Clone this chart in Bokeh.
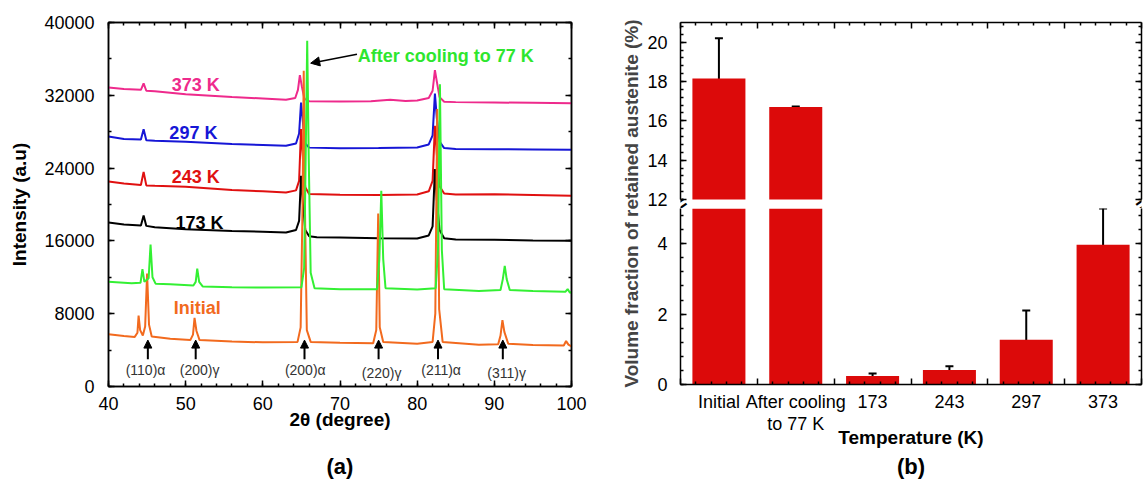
from bokeh.plotting import figure
from bokeh.models import (LinearAxis, SingleIntervalTicker, FixedTicker, Range1d, Title,
                          Arrow, NormalHead, Whisker, TeeHead, ColumnDataSource, CDSView, BooleanFilter)
from bokeh.layouts import row, column
from bokeh.embed import file_html
from bokeh.resources import INLINE
from bokeh.core.properties import value

FONT = "Liberation Sans"

# ---------------- (a) XRD patterns: points ----------------
init_x = [40.0, 42.0, 43.4, 43.75, 43.9, 44.1, 44.45, 44.75, 45.0, 45.25, 45.6, 48.0, 50.6, 50.95, 51.15, 51.4,
          51.8, 56.0, 60.0, 64.5, 64.9, 65.15, 65.3, 65.45, 65.7, 66.2, 70.0, 74.3, 74.7, 74.95, 75.15, 75.6,
          80.0, 82.0, 82.35, 82.6, 82.85, 83.3, 88.0, 90.5, 90.8, 91.05, 91.3, 91.8, 95.0, 99.0, 99.3, 99.6, 100.0]
init_y = [5750, 5550, 5450, 5900, 7800, 6200, 5600, 6600, 12400, 6800, 5500, 5250, 5100, 5700, 7550, 6100,
          5100, 4950, 4850, 4900, 6500, 20000, 34700, 20000, 6200, 4900, 4800, 4750, 6200, 19000, 6500, 4900,
          4700, 4900, 8000, 30500, 8500, 4900, 4600, 4650, 5600, 7300, 6000, 4700, 4550, 4500, 5000, 4600, 4400]

cool_x = [40.0, 43.0, 44.15, 44.4, 44.65, 45.2, 45.45, 45.7, 46.1, 48.0, 51.0, 51.3, 51.5, 51.75, 52.2, 56.0,
          60.0, 65.0, 65.35, 65.55, 65.75, 65.95, 66.2, 66.7, 70.0, 74.8, 75.1, 75.35, 75.6, 75.9, 80.0, 82.4,
          82.7, 82.95, 83.2, 83.5, 88.0, 90.8, 91.1, 91.35, 91.6, 92.0, 95.0, 99.2, 99.5, 99.8, 100.0]
cool_y = [11500, 11350, 11400, 12900, 11500, 11900, 15600, 12000, 11300, 11240, 11100, 11500, 12950, 11500,
          11000, 10900, 10880, 10900, 13000, 25000, 38000, 25000, 12500, 10800, 10700, 10700, 14000, 21500,
          14000, 10800, 10650, 10800, 15000, 33200, 15000, 10700, 10500, 10600, 11800, 13260, 11800, 10600,
          10500, 10400, 10700, 10300, 10400]

k173_x = [40.0, 42.0, 44.2, 44.55, 44.9, 46.0, 50.0, 56.0, 60.0, 63.0, 64.3, 64.7, 64.95, 65.2, 65.5, 66.0,
          67.0, 70.0, 75.0, 80.0, 81.5, 82.0, 82.3, 82.55, 82.9, 83.5, 85.0, 90.0, 95.0, 100.0]
k173_y = [18020, 17800, 17700, 18800, 17650, 17500, 17290, 17100, 17000, 16930, 17200, 18200, 23150, 20000,
          17200, 16500, 16400, 16380, 16300, 16270, 16600, 17600, 23890, 20500, 17200, 16300, 16150, 16120,
          16050, 16010]

k243_x = [40.0, 42.0, 44.2, 44.55, 44.9, 46.0, 50.0, 56.0, 60.0, 63.0, 64.3, 64.7, 64.95, 65.2, 65.5, 66.0,
          70.0, 75.0, 80.0, 81.5, 82.0, 82.3, 82.55, 82.9, 83.5, 85.0, 90.0, 95.0, 100.0]
k243_y = [22530, 22300, 22150, 23590, 22100, 22050, 21950, 21600, 21450, 21320, 21550, 22600, 28280, 25000,
          21900, 21150, 21070, 21050, 21100, 21450, 22600, 28650, 25500, 22000, 21200, 21100, 21140, 21050, 20960]

k297_x = [40.0, 42.0, 44.2, 44.55, 44.9, 46.0, 50.0, 56.0, 60.0, 63.0, 64.3, 64.7, 64.95, 65.2, 65.5, 66.0,
          70.0, 75.0, 80.0, 81.5, 82.0, 82.3, 82.55, 82.9, 83.5, 85.0, 90.0, 95.0, 100.0]
k297_y = [27480, 27200, 27150, 28280, 27050, 27000, 26890, 26650, 26550, 26450, 26700, 27800, 31210, 29000,
          26700, 26250, 26190, 26200, 26270, 26600, 27600, 32200, 29500, 26900, 26200, 26100, 26080, 26050, 26010]

k373_x = [40.0, 42.0, 44.2, 44.55, 44.9, 46.0, 50.0, 56.0, 60.0, 63.0, 64.2, 64.55, 64.8, 65.05, 65.4, 66.0,
          70.0, 74.0, 76.5, 78.5, 80.0, 81.5, 82.0, 82.3, 82.55, 82.9, 83.5, 85.0, 90.0, 95.0, 100.0]
k373_y = [32860, 32700, 32600, 33300, 32500, 32450, 32120, 31800, 31650, 31500, 31700, 32600, 34210, 33000,
          31600, 31350, 31320, 31350, 31500, 31380, 31430, 31700, 32500, 34760, 33500, 31800, 31300, 31250,
          31210, 31170, 31130]

curve_colors = {"373": "#EE2A8C", "297": "#1616D6", "243": "#E01010", "173": "#000000",
                "init": "#F26A1E", "cool": "#33F033"}

# series labels
lab_text = ["373 K", "297 K", "243 K", "173 K", "Initial"]
lab_x = [51.3, 51.0, 51.3, 51.8, 51.5]
lab_y = [33100, 27900, 22970, 17950, 8680]
lab_col = ["#EE2A8C", "#1616D6", "#E01010", "#000000", "#F26A1E"]

# peak (hkl) annotations
peak_text = ["(110)α", "(200)γ", "(200)α", "(220)γ", "(211)α", "(311)γ"]
peak_arrow_x = [45.1, 51.3, 65.4, 75.0, 82.7, 91.1]
peak_label_x = [44.8, 51.8, 65.5, 75.4, 83.1, 91.6]
peak_label_y = [1850, 1850, 1850, 1500, 1850, 1500]
peak_arrow_y0 = [3000] * 6
peak_arrow_y1 = [5100] * 6

# ---------------- (b) retained austenite ----------------
cats = ["Initial", "After cooling\nto 77 K", "173", "243", "297", "373"]
vf = [18.15, 16.70, 0.24, 0.41, 1.27, 3.97]
vf_err = [2.05, 0.03, 0.07, 0.11, 0.83, 1.03]
bar_color = "#DC0A0A"
LOWER_RANGE = (0, 5)      # lower segment of the broken axis
UPPER_RANGE = (12, 21)    # upper segment of the broken axis

TICK_FS = "18px"
TITLE_FS = "19px"


def style_axis(ax, labels=True):
    ax.major_tick_in = 6
    ax.major_tick_out = 0
    ax.minor_tick_in = 3
    ax.minor_tick_out = 0
    ax.axis_line_width = 1.5
    ax.major_tick_line_width = 1.5
    ax.minor_tick_line_width = 1.5
    ax.axis_line_color = "black"
    ax.major_tick_line_color = "black"
    ax.minor_tick_line_color = "black"
    ax.major_label_text_font = FONT
    ax.major_label_text_color = "black"
    ax.major_label_text_font_size = TICK_FS if labels else "0px"
    if not labels:
        ax.major_label_standoff = 0
    ax.axis_label_text_font = FONT
    ax.axis_label_text_font_style = "bold"
    ax.axis_label_text_font_size = TITLE_FS
    ax.axis_label_text_color = "black"


def caption_axis(text, standoff):
    ax = LinearAxis(ticker=FixedTicker(ticks=[]), axis_label=text)
    ax.axis_line_color = None
    ax.major_tick_line_color = None
    ax.minor_tick_line_color = None
    ax.major_label_text_font_size = "0px"
    ax.major_label_standoff = 0
    ax.axis_label_standoff = standoff
    ax.axis_label_text_font = FONT
    ax.axis_label_text_font_style = "bold"
    ax.axis_label_text_font_size = "22px"
    ax.axis_label_text_color = "black"
    return ax


# ---------------- left panel ----------------
p1 = figure(frame_width=463, frame_height=364, x_range=Range1d(40, 100), y_range=Range1d(0, 40000),
            x_axis_location=None, y_axis_location=None, output_backend="svg", toolbar_location=None,
            title=None, min_border_left=108, min_border_right=47, min_border_top=20, min_border_bottom=0)
p1.grid.visible = False
p1.outline_line_color = "black"
p1.outline_line_width = 1.5

xb = LinearAxis(ticker=SingleIntervalTicker(interval=10, num_minor_ticks=5), axis_label="2θ (degree)")
style_axis(xb)
xb.major_label_standoff = 10
xb.axis_label_standoff = -4
p1.add_layout(xb, "below")
p1.add_layout(caption_axis("(a)", 21), "below")
xt = LinearAxis(ticker=SingleIntervalTicker(interval=10, num_minor_ticks=5))
style_axis(xt, labels=False)
p1.add_layout(xt, "above")
yl = LinearAxis(ticker=SingleIntervalTicker(interval=8000, num_minor_ticks=2), axis_label="Intensity (a.u)")
style_axis(yl)
yl.major_label_standoff = 14
yl.axis_label_standoff = 11
p1.add_layout(yl, "left")
yr = LinearAxis(ticker=SingleIntervalTicker(interval=8000, num_minor_ticks=2))
style_axis(yr, labels=False)
p1.add_layout(yr, "right")

for xs, ys, key in [(k373_x, k373_y, "373"), (k297_x, k297_y, "297"), (k243_x, k243_y, "243"),
                    (k173_x, k173_y, "173"), (init_x, init_y, "init"), (cool_x, cool_y, "cool")]:
    p1.line(xs, ys, line_color=curve_colors[key], line_width=2)

lab_src = ColumnDataSource(dict(x=lab_x, y=lab_y, t=lab_text, c=lab_col))
p1.text(x="x", y="y", text="t", text_color="c", source=lab_src, text_font=value(FONT),
        text_font_size="18px", text_font_style="bold", text_align="center", text_baseline="middle")
p1.text(x=[83.7], y=[36300], text=["After cooling to 77 K"], text_color="#2EE62E", text_font=value(FONT),
        text_font_size="18px", text_font_style="bold", text_align="center", text_baseline="middle")
p1.add_layout(Arrow(end=NormalHead(size=9, fill_color="black", line_color="black"),
                    x_start=72.2, y_start=36520, x_end=66.2, y_end=35530, line_width=1.5, line_color="black"))

pk_src = ColumnDataSource(dict(xa=peak_arrow_x, y0=peak_arrow_y0, y1=peak_arrow_y1))
p1.add_layout(Arrow(end=NormalHead(size=8, fill_color="black", line_color="black"), source=pk_src,
                    x_start="xa", y_start="y0", x_end="xa", y_end="y1", line_width=2, line_color="black"))
p1.text(x=peak_label_x, y=peak_label_y, text=peak_text, text_color="#333333", text_font=value(FONT),
        text_font_size="14px", text_align="center", text_baseline="middle")

# ---------------- y label for right panel ----------------
pl_lab = figure(width=26, frame_height=362, x_range=Range1d(0, 1), y_range=Range1d(0, 1),
                x_axis_location=None, y_axis_location=None, output_backend="svg", toolbar_location=None,
                title=None, min_border_left=0, min_border_right=0, min_border_top=22, min_border_bottom=24)
pl_lab.grid.visible = False
pl_lab.outline_line_color = None
pl_lab.add_layout(Title(text="Volume fraction of retained austenite (%)", align="center", text_font=FONT,
                        text_font_size=TITLE_FS, text_font_style="bold", standoff=0), "left")

# ---------------- right panel (broken axis) ----------------
xc = [i + 0.5 for i in range(len(cats))]
bsrc = ColumnDataSource(dict(x=xc, top=vf, upper=[v + e for v, e in zip(vf, vf_err)],
                             lower=[v - e for v, e in zip(vf, vf_err)]))
bound_ticks = list(range(len(cats) + 1))
minor_t = [i + f for i in range(len(cats)) for f in (0.2, 0.4, 0.6, 0.8)]

UP_FH, GAP, LO_FH = 177, 9, 176
# upper frame also holds the white gap of the break below its axis segment
up_start = UPPER_RANGE[0] - GAP * (UPPER_RANGE[1] - UPPER_RANGE[0]) / UP_FH


def make_part(fh, yr, bounds, top, bar_bottom):
    p = figure(frame_width=461, frame_height=fh, x_range=Range1d(0, len(cats)), y_range=Range1d(*yr),
               x_axis_location=None, y_axis_location=None, output_backend="svg", toolbar_location=None,
               title=None, min_border_left=34, min_border_right=4, min_border_top=top, min_border_bottom=0)
    p.grid.visible = False
    p.outline_line_color = None
    la = LinearAxis(ticker=SingleIntervalTicker(interval=2, num_minor_ticks=5), bounds=bounds)
    style_axis(la)
    la.major_label_standoff = 13
    p.add_layout(la, "left")
    ra = LinearAxis(ticker=SingleIntervalTicker(interval=2, num_minor_ticks=5), bounds=bounds)
    style_axis(ra, labels=False)
    p.add_layout(ra, "right")
    mask = [v > bounds[0] for v in vf]
    p.vbar(x="x", top="top", bottom=bar_bottom, width=0.69, source=bsrc,
           view=CDSView(filter=BooleanFilter(mask)), fill_color=bar_color, line_color=None)
    p.add_layout(Whisker(source=bsrc, base="x", upper="upper", lower="lower", dimension="height",
                         line_width=2, line_color="black",
                         upper_head=TeeHead(size=8, line_width=2, line_color="black"),
                         lower_head=TeeHead(size=8, line_width=2, line_color="black")))
    return p


pu = make_part(UP_FH + GAP, (up_start, UPPER_RANGE[1]), UPPER_RANGE, 22, UPPER_RANGE[0])
ta = LinearAxis(ticker=FixedTicker(ticks=bound_ticks, minor_ticks=minor_t))
style_axis(ta, labels=False)
pu.add_layout(ta, "above")
# axis-break marks at both spines, in the middle of the gap
brk_y = (up_start + UPPER_RANGE[0]) / 2
pu.text(x=[0, len(cats)], y=[brk_y, brk_y], text=["=", "="], angle=0.6, text_font=value(FONT),
        text_font_size="20px", text_font_style="bold", text_color="black",
        text_align="center", text_baseline="middle")

plo = make_part(LO_FH, LOWER_RANGE, LOWER_RANGE, 0, 0)
ba = LinearAxis(ticker=FixedTicker(ticks=bound_ticks, minor_ticks=minor_t))
style_axis(ba, labels=False)
plo.add_layout(ba, "below")
bl = LinearAxis(ticker=FixedTicker(ticks=xc), axis_label="Temperature (K)",
                major_label_overrides={x: c for x, c in zip(xc, cats)})
style_axis(bl)
bl.major_tick_line_color = None
bl.minor_tick_line_color = None
bl.axis_line_color = None
bl.major_label_standoff = 7
bl.major_label_text_line_height = 1.1
bl.axis_label_standoff = -10
plo.add_layout(bl, "below")
plo.add_layout(caption_axis("(b)", 3), "below")

layout = row(p1, pl_lab, column(pu, plo))
open("out.html", "w").write(file_html(layout, INLINE))
